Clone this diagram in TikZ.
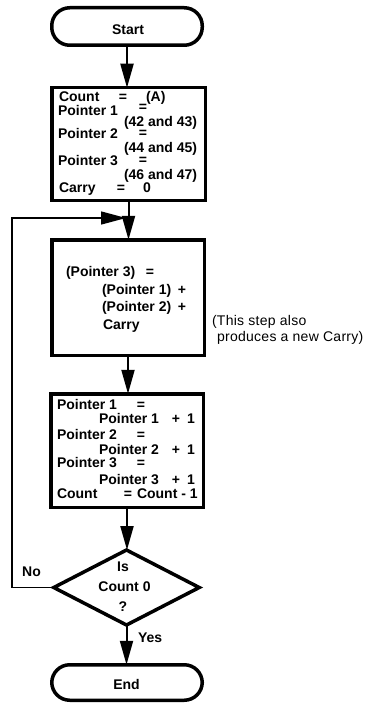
\documentclass[tikz,border=0pt]{standalone}
\usepackage{fontspec}
\setmainfont{Liberation Sans}
\newfontfamily\notefont[LetterSpace=2]{Liberation Sans}
\usetikzlibrary{arrows.meta,shapes.geometric}
\begin{document}
\begin{tikzpicture}[x=1pt,y=-1pt,
  every node/.style={inner sep=0pt, outer sep=0pt},
  txt/.style={font=\bfseries\fontsize{14}{16}\selectfont},
  note/.style={font=\notefont\fontsize{14}{16}\selectfont, anchor=base west},
  lbl/.style={txt, anchor=base west},
  eq/.style={txt, anchor=base},
  flowbox/.style={draw, line width=3.5pt},
  term/.style={draw, line width=3.5pt, rounded corners=18pt},
  decision/.style={draw, diamond, line width=3.5pt},
  arr/.style={line width=2pt, -{Triangle[length=24pt,width=13pt]}},
  looparr/.style={line width=1.4pt, -{Triangle[length=25pt,width=13pt]}}
]
\useasboundingbox (0,0) rectangle (370,706);

% shapes
\node[term, minimum width=150.5pt, minimum height=37.5pt] (start) at (127,26.5) {};
\node[flowbox, minimum width=153.5pt, minimum height=112.5pt] (box1) at (128.5,144) {};
\node[flowbox, minimum width=152.5pt, minimum height=115.5pt] (box2) at (128,297.5) {};
\node[flowbox, minimum width=152.5pt, minimum height=113.5pt] (box3) at (127,450.5) {};
\node[decision, minimum width=145.5pt, minimum height=75pt] (dec) at (126.5,587.5) {};
\node[term, minimum width=150.5pt, minimum height=35.5pt] (end) at (127,682.5) {};

% connectors
\draw[arr] (start.south) -- (start.south |- box1.north);
\draw[arr] (box1.south) -- (box1.south |- box2.north);
\draw[arr] (box2.south) -- (box2.south |- box3.north);
\draw[arr] (box3.south) -- (box3.south |- dec.north);
\draw[arr] (dec.south) -- (dec.south |- end.north);
\coordinate (cornerB) at (12,587.5);
\coordinate (cornerT) at (12,218);
\coordinate (join) at (126,218);
\draw[looparr] (dec.west) -- (cornerB) -- (cornerT) -- (join);

% terminal texts
\node[eq] (tstart) at (128,34.5) {Start};
\node[eq] (tend) at (126.5,689.5) {End};

% box 1
\node[lbl] (b1a) at (59,101.5) {Count};
\node[eq] (b1b) at (123,101.5) {=};
\node[lbl] (b1c) at (146,101.5) {(A)};
\node[lbl] (b1d) at (58,116) {Pointer 1};
\node[eq] (b1e) at (143,112) {=};
\node[lbl] (b1f) at (124,126.5) {(42 and 43)};
\node[lbl] (b1g) at (58,138) {Pointer 2};
\node[eq] (b1h) at (143,137.5) {=};
\node[lbl] (b1i) at (124,152.5) {(44 and 45)};
\node[lbl] (b1j) at (58,165.5) {Pointer 3};
\node[eq] (b1k) at (143,164.5) {=};
\node[lbl] (b1l) at (124,179.5) {(46 and 47)};
\node[lbl] (b1m) at (59,192.5) {Carry};
\node[eq] (b1n) at (121,192.5) {=};
\node[eq] (b1o) at (147,192.5) {0};

% box 2
\node[lbl] (b2a) at (66,276.5) {(Pointer 3)};
\node[eq] (b2b) at (150,276.5) {=};
\node[lbl] (b2c) at (102,294.5) {(Pointer 1)};
\node[eq] (b2d) at (182,294.5) {+};
\node[lbl] (b2e) at (102,311.5) {(Pointer 2)};
\node[eq] (b2f) at (182,311.5) {+};
\node[lbl] (b2g) at (103,329.5) {Carry};

% note
\node[note] (n1) at (212,325.5) {(This step also};
\node[note] (n2) at (217,341.5) {produces a new Carry)};

% box 3
\node[lbl] (b3a) at (57,409.5) {Pointer 1};
\node[eq] (b3b) at (141,409.5) {=};
\node[lbl] (b3c) at (99,423.5) {Pointer 1};
\node[eq] (b3d) at (176,423.5) {+};
\node[eq] (b3e) at (191,423.5) {1};
\node[lbl] (b3f) at (57,439.5) {Pointer 2};
\node[eq] (b3g) at (141,439.5) {=};
\node[lbl] (b3h) at (99,454.5) {Pointer 2};
\node[eq] (b3i) at (176,454.5) {+};
\node[eq] (b3j) at (191,454.5) {1};
\node[lbl] (b3k) at (57,467.5) {Pointer 3};
\node[eq] (b3l) at (141,467.5) {=};
\node[lbl] (b3m) at (99,484.5) {Pointer 3};
\node[eq] (b3n) at (176,484.5) {+};
\node[eq] (b3o) at (191,484.5) {1};
\node[lbl] (b3p) at (57,498.5) {Count};
\node[eq] (b3q) at (128,498.5) {=};
\node[lbl] (b3r) at (137,498.5) {Count - 1};

% decision
\node[eq] (d1) at (123,571.5) {Is};
\node[eq] (d2) at (124.5,591.5) {Count 0};
\node[eq] (d3) at (123,611.5) {?};
\node[eq] (lno) at (31.5,576.5) {No};
\node[lbl] (lyes) at (138,642.5) {Yes};
\end{tikzpicture}
\end{document}
